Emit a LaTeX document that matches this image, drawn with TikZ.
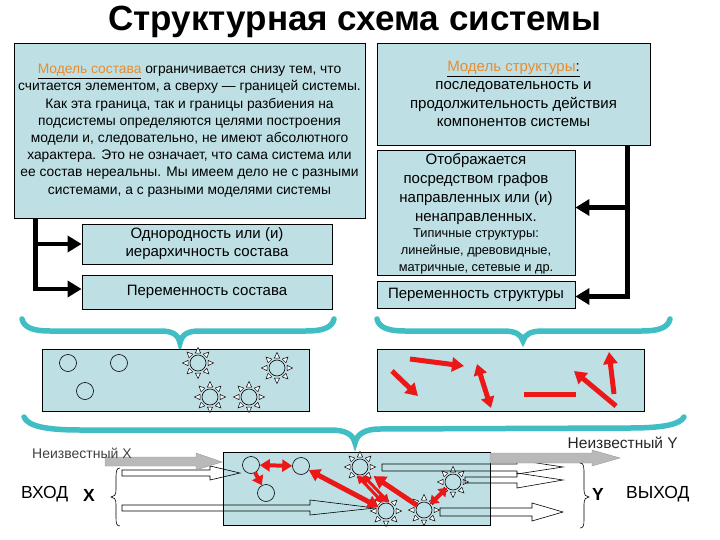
\documentclass[tikz,border=0pt]{standalone}
\usepackage{fontspec}
\setmainfont{Liberation Sans}
\usetikzlibrary{arrows.meta}
\definecolor{boxfill}{RGB}{190,223,228}
\definecolor{tealc}{RGB}{64,190,196}
\definecolor{orng}{RGB}{232,140,48}
\definecolor{redc}{RGB}{236,24,24}
\newcommand{\mysun}[2]{%
  \node[ball,minimum size=16pt] (#1) at (#2) {};
  \begin{scope}[shift={(#1)}]
    \foreach \a in {0,45,...,315}{\draw[line width=0.5pt,fill=white,rotate=\a] (10,-2.6) -- (15.5,0) -- (10,2.6) -- cycle;}
  \end{scope}}
\begin{document}
\begin{tikzpicture}[x=1pt,y=-1pt,
  box/.style={draw=black, line width=0.8pt, fill=boxfill, inner sep=0pt, align=center},
  blk/.style={line width=4.5pt, -{Triangle[length=14pt,width=16pt]}},
  redarr/.style={draw=redc, line width=5pt, -{Triangle[length=12pt,width=14pt]}},
  reddbl/.style={draw=redc, line width=5pt, {Triangle[length=11pt,width=13pt]}-{Triangle[length=11pt,width=13pt]}},
  brc/.style={draw=tealc, line width=5.5pt, line cap=round},
  hollow/.style={draw=black, line width=0.6pt},
  hatch/.style={fill=gray!55, draw=gray!80, line width=0.4pt},
  ball/.style={draw=black, line width=0.6pt, fill=boxfill, circle, minimum size=17pt, inner sep=0pt},
  txt/.style={inner sep=0pt},
]
\useasboundingbox (0,0) rectangle (720,540);

% title
\node[txt, anchor=base, font=\fontsize{35}{42}\selectfont\bfseries] (title) at (355,31) {Структурная схема системы};

% left top box
\node[box, minimum width=351pt, minimum height=175pt, font=\fontsize{13.8}{17.2}\selectfont] (lbox) at (189.5,130.5)
 {\underline{\textcolor{orng}{Модель состава}} ограничивается снизу тем, что\\
  считается элементом, а сверху — границей системы.\\
  Как эта граница, так и границы разбиения на\\
  подсистемы определяются целями построения\\
  модели и, следовательно, не имеют абсолютного\\
  характера. Это не означает, что сама система или\\
  ее состав нереальны. Мы имеем дело не с разными\\
  системами, а с разными моделями системы};

\node[box, minimum width=250pt, minimum height=40pt, font=\fontsize{15}{18}\selectfont] (odn) at (207,244)
 {Однородность или (и)\\иерархичность состава};
\node[box, minimum width=250pt, minimum height=34pt, font=\fontsize{15}{18}\selectfont] (per) at (207,292)
 {Переменность состава};

\draw[blk] ([xshift=22pt]lbox.south west) |- (odn.west);
\draw[blk] ([xshift=22pt]lbox.south west) |- ([yshift=3pt]per.west);

% right boxes
\node[box, minimum width=273pt, minimum height=102pt, font=\fontsize{15}{18.5}\selectfont] (rtop) at (513.5,94)
 {\underline{\textcolor{orng}{Модель структуры}:}\\последовательность и\\продолжительность действия\\компонентов системы};
\node[box, minimum width=198pt, minimum height=125pt] (rmid) at (476,212.5) {};
\node[txt, align=center, anchor=north, font=\fontsize{15}{18.8}\selectfont] (rmidt1) at ([yshift=-4pt]rmid.north)
 {Отображается\\посредством графов\\направленных или (и)\\ненаправленных.};
\node[txt, align=center, anchor=south, font=\fontsize{12.8}{17}\selectfont] (rmidt2) at ([yshift=1pt]rmid.south)
 {Типичные структуры:\\линейные, древовидные,\\матричные, сетевые и др.};
\node[box, minimum width=198pt, minimum height=27pt, font=\fontsize{15}{18}\selectfont] (rbot) at (476,294.5)
 {Переменность структуры};

\draw[blk] ([xshift=-23pt]rtop.south east) |- ([yshift=5pt]rmid.east);
\draw[blk] ([xshift=-23pt]rtop.south east) |- ([yshift=-2pt]rbot.east);

% braces (middle)
\draw[brc] (22,319) .. controls (24,328) and (34,331) .. (50,331) -- (160,331) .. controls (172,331) and (178,334) .. (180,343) .. controls (182,334) and (188,331) .. (200,331) -- (306,331) .. controls (322,331) and (332,328) .. (334,319);
\draw[brc] (377,319) .. controls (379,328) and (389,331) .. (405,331) -- (503,331) .. controls (515,331) and (521,334) .. (523,341) .. controls (525,334) and (531,331) .. (543,331) -- (642,331) .. controls (658,331) and (668,328) .. (670,319);

% middle boxes
\node[box, minimum width=267pt, minimum height=62pt] (mleft) at (176,380) {};
\node[box, minimum width=267pt, minimum height=62pt] (mright) at (510.5,380) {};

\node[ball] (m1) at (68,363) {};
\node[ball] (m2) at (119,363) {};
\node[ball] (m3) at (85,391) {};
\mysun{ms1}{198,363}
\mysun{ms2}{277,368}
\mysun{ms3}{210,397}
\mysun{ms4}{249,397}

\coordinate (ra1) at (392,371); \coordinate (rb1) at (418,396);
\coordinate (ra2) at (410,359); \coordinate (rb2) at (464,366);
\coordinate (ra3) at (477,364); \coordinate (rb3) at (491,408);
\coordinate (ra4) at (524,394); \coordinate (rb4) at (576,394);
\coordinate (ra5) at (616,406); \coordinate (rb5) at (574,371);
\coordinate (ra6) at (614,394); \coordinate (rb6) at (609,352);
\draw[redarr] (ra1) -- (rb1);
\draw[redarr] (ra2) -- (rb2);
\draw[reddbl] (ra3) -- (rb3);
\draw[draw=redc, line width=5pt] (ra4) -- (rb4);
\draw[redarr] (ra5) -- (rb5);
\draw[redarr] (ra6) -- (rb6);

% big brace
\draw[brc] (24,417) .. controls (28,426) and (45,430) .. (80,430) -- (330,430) .. controls (345,430) and (353,434) .. (355,443) .. controls (357,434) and (365,429) .. (380,429) -- (630,428) .. controls (665,428) and (680,424) .. (684,417);

% bottom
\node[box, minimum width=267pt, minimum height=73pt] (bbox) at (356.5,488.5) {};
\node[ball] (b1) at (251,465) {};
\node[ball] (b2) at (301,466) {};
\node[ball] (b3) at (266,493) {};
\mysun{s1}{360,467}
\mysun{s2}{386,511}
\mysun{s3}{424,510}
\mysun{s4}{453,482}

% hollow arrows
\draw[hollow] (122,470) -- (210,470) -- (210,466) -- (240,473) -- (210,480) -- (210,476) -- (122,476) -- cycle;
\draw[hollow] (122,505) -- (310,505) -- (310,500) -- (375,508) -- (310,515) -- (310,511) -- (122,511) -- cycle;
\draw[hollow] (382,464) -- (517,464) -- (517,460) -- (563,467) -- (517,474) -- (517,471) -- (382,471) -- cycle;
\draw[hollow] (465,477) -- (517,477) -- (517,473) -- (563,480) -- (517,488) -- (517,483) -- (465,483) -- cycle;
\draw[hollow] (440,508) -- (532,508) -- (532,503) -- (563,512) -- (532,521) -- (532,516) -- (440,516) -- cycle;

% hatched arrows
\draw[hatch] (105,457) -- (196,457) -- (196,453) -- (222,462) -- (196,470) -- (196,466) -- (105,466) -- cycle;
\draw[hatch] (490,453) -- (592,453) -- (592,450) -- (620,458) -- (592,466) -- (592,463) -- (490,463) -- cycle;

% red arrows bottom
\draw[draw=redc, line width=4pt, {Triangle[length=10pt,width=12pt]}-{Triangle[length=10pt,width=12pt]}] (b1) -- (b2);
\draw[draw=redc, line width=4pt, -{Triangle[length=9pt,width=12pt]}] (b1) -- (b3);
\draw[reddbl] (b2) -- (s2);
\draw[draw=redc, line width=3pt, {Triangle[length=8pt,width=9pt]}-{Triangle[length=8pt,width=9pt]}] ([shift={(-3,0)}]s1.south) -- ([shift={(-3,0)}]s2.north);
\draw[draw=redc, line width=3pt, {Triangle[length=8pt,width=9pt]}-{Triangle[length=8pt,width=9pt]}] ([shift={(3,0)}]s1.south) -- ([shift={(3,0)}]s2.north);
\draw[redarr, shorten >=8pt] (s3) -- (s1);
\draw[draw=redc, line width=4pt, {Triangle[length=8pt,width=11pt]}-{Triangle[length=8pt,width=11pt]}] (s3) -- (s4);

% small braces
\draw[line width=0.6pt] (120,468) .. controls (116,468) and (116,472) .. (116,480) -- (116,490) .. controls (116,495) and (114,497) .. (111,497) .. controls (114,497) and (116,499) .. (116,504) -- (116,518) .. controls (116,524) and (117,526) .. (120,526);
\draw[line width=0.6pt] (580,463) .. controls (584,463) and (584,467) .. (584,475) -- (584,490) .. controls (584,495) and (586,497) .. (589,497) .. controls (586,497) and (584,499) .. (584,504) -- (584,520) .. controls (584,526) and (583,528) .. (580,528);

% labels
\node[txt, font=\fontsize{14}{16}\selectfont, text=black!75, anchor=west] (ux) at (32,453) {Неизвестный X};
\node[txt, font=\fontsize{15.5}{18}\selectfont, text=black!85, anchor=east] (uy) at (678,443) {Неизвестный Y};
\node[txt, font=\fontsize{17.5}{20}\selectfont, anchor=west] (vx) at (21,494) {ВХОД};
\node[txt, font=\fontsize{17.5}{20}\selectfont\bfseries] (xx) at (89,495) {X};
\node[txt, font=\fontsize{17.5}{20}\selectfont\bfseries] (yy) at (598,494) {Y};
\node[txt, font=\fontsize{17.5}{20}\selectfont, anchor=west] (vy) at (626,494) {ВЫХОД};
\end{tikzpicture}
\end{document}
